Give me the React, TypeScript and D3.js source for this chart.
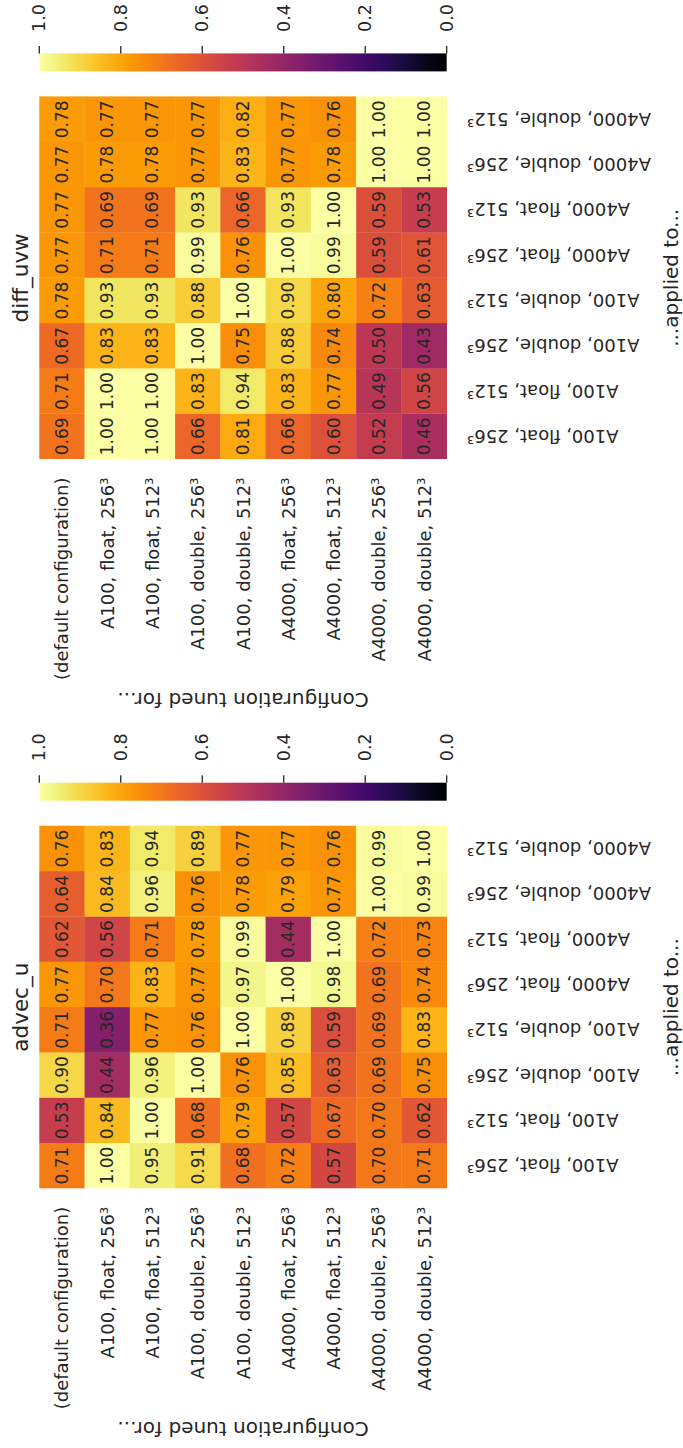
import React from "react";
import * as d3 from "d3";

const COLS = [
  "A100, float, 256³",
  "A100, float, 512³",
  "A100, double, 256³",
  "A100, double, 512³",
  "A4000, float, 256³",
  "A4000, float, 512³",
  "A4000, double, 256³",
  "A4000, double, 512³",
];
const ROWS = ["(default configuration)", ...COLS];

const ADVEC_U = [
  [0.71, 0.53, 0.9, 0.71, 0.77, 0.62, 0.64, 0.76],
  [1.0, 0.84, 0.44, 0.36, 0.7, 0.56, 0.84, 0.83],
  [0.95, 1.0, 0.96, 0.77, 0.83, 0.71, 0.96, 0.94],
  [0.91, 0.68, 1.0, 0.76, 0.77, 0.78, 0.76, 0.89],
  [0.68, 0.79, 0.76, 1.0, 0.97, 0.99, 0.78, 0.77],
  [0.72, 0.57, 0.85, 0.89, 1.0, 0.44, 0.79, 0.77],
  [0.57, 0.67, 0.63, 0.59, 0.98, 1.0, 0.77, 0.76],
  [0.7, 0.7, 0.69, 0.69, 0.69, 0.72, 1.0, 0.99],
  [0.71, 0.62, 0.75, 0.83, 0.74, 0.73, 0.99, 1.0],
];

const DIFF_UVW = [
  [0.69, 0.71, 0.67, 0.78, 0.77, 0.77, 0.77, 0.78],
  [1.0, 1.0, 0.83, 0.93, 0.71, 0.69, 0.78, 0.77],
  [1.0, 1.0, 0.83, 0.93, 0.71, 0.69, 0.78, 0.77],
  [0.66, 0.83, 1.0, 0.88, 0.99, 0.93, 0.77, 0.77],
  [0.81, 0.94, 0.75, 1.0, 0.76, 0.66, 0.83, 0.82],
  [0.66, 0.83, 0.88, 0.9, 1.0, 0.93, 0.77, 0.77],
  [0.6, 0.77, 0.74, 0.8, 0.99, 1.0, 0.78, 0.76],
  [0.52, 0.49, 0.5, 0.72, 0.59, 0.59, 1.0, 1.0],
  [0.46, 0.56, 0.43, 0.63, 0.61, 0.53, 1.0, 1.0],
];

const CBAR_TICKS = [0, 0.2, 0.4, 0.6, 0.8, 1.0];
const X_LABEL = "...applied to...";
const Y_LABEL = "Configuration tuned for...";

const FONT = "DejaVu Sans, sans-serif";
const TXT = "#262626";
const FIG_W = 1448;
const TOP = 39.3;
const BOTTOM = 446.7;
const HM_W = 362.3;

function Panel({ title, data, x0, id }: { title: string; data: number[][]; x0: number; id: string }) {
  const x = d3.scaleBand<number>().domain(d3.range(COLS.length)).range([x0, x0 + HM_W]);
  const y = d3.scaleBand<number>().domain(d3.range(ROWS.length)).range([TOP, BOTTOM]);
  const color = (v: number) => d3.interpolateInferno(v);
  const cbX = x0 + HM_W + 25.3;
  const cbW = 18;
  const cy = d3.scaleLinear().domain([0, 1]).range([BOTTOM, TOP]);
  const cx = x0 + HM_W / 2;
  const stops = d3.range(0, 41).map((k) => k / 40);
  return (
    <g>
      <defs>
        <linearGradient id={id} x1="0" y1="0" x2="0" y2="1">
          {stops.map((s) => (
            <stop key={s} offset={s} stopColor={color(1 - s)} />
          ))}
        </linearGradient>
      </defs>
      {data.map((row, i) =>
        row.map((v, j) => (
          <rect
            key={`${i}-${j}`}
            x={x(j)}
            y={y(i)}
            width={x.bandwidth() + 0.3}
            height={y.bandwidth() + 0.3}
            fill={color(v)}
          />
        ))
      )}
      {data.map((row, i) =>
        row.map((v, j) => (
          <text
            key={`t${i}-${j}`}
            x={(x(j) as number) + x.bandwidth() / 2}
            y={(y(i) as number) + y.bandwidth() / 2}
            textAnchor="middle"
            dominantBaseline="central"
            fontSize={17}
            fill={TXT}
          >
            {v.toFixed(2)}
          </text>
        ))
      )}
      {ROWS.map((r, i) => (
        <text
          key={`r${i}`}
          x={x0 - 18.5}
          y={(y(i) as number) + y.bandwidth() / 2}
          textAnchor="end"
          dominantBaseline="central"
          fontSize={18}
          fill={TXT}
        >
          {r}
        </text>
      ))}
      {COLS.map((c, j) => (
        <text
          key={`c${j}`}
          transform={`translate(${(x(j) as number) + x.bandwidth() / 2},467) rotate(-90)`}
          textAnchor="end"
          dominantBaseline="central"
          fontSize={18}
          fill={TXT}
        >
          {c}
        </text>
      ))}
      <text x={cx} y={27.5} textAnchor="middle" fontSize={21.5} fill={TXT}>
        {title}
      </text>
      <text x={cx} y={678} textAnchor="middle" fontSize={20} fill={TXT}>
        {X_LABEL}
      </text>
      <text
        transform={`translate(${x0 - 234},${(TOP + BOTTOM) / 2}) rotate(-90)`}
        textAnchor="middle"
        fontSize={20}
        fill={TXT}
      >
        {Y_LABEL}
      </text>
      <rect x={cbX} y={TOP} width={cbW} height={BOTTOM - TOP} fill={`url(#${id})`} />
      {CBAR_TICKS.map((t) => (
        <g key={`k${t}`}>
          <line x1={cbX + cbW} x2={cbX + cbW + 7.5} y1={cy(t)} y2={cy(t)} stroke={TXT} strokeWidth={1.3} />
          <text
            x={cbX + cbW + 21.5}
            y={cy(t)}
            dominantBaseline="central"
            fontSize={17.5}
            fill={TXT}
          >
            {t.toFixed(1)}
          </text>
        </g>
      ))}
    </g>
  );
}

export default function App() {
  return (
    <svg
      width={683}
      height={1448}
      style={{ position: "absolute", left: 0, top: 0, background: "#fff" }}
      fontFamily={FONT}
    >
      <rect width={683} height={1448} fill="#fff" />
      <g transform={`translate(0,${FIG_W}) rotate(-90)`}>
        <Panel title="advec_u" data={ADVEC_U} x0={259.7} id="cb1" />
        <Panel title="diff_uvw" data={DIFF_UVW} x0={989} id="cb2" />
      </g>
    </svg>
  );
}
